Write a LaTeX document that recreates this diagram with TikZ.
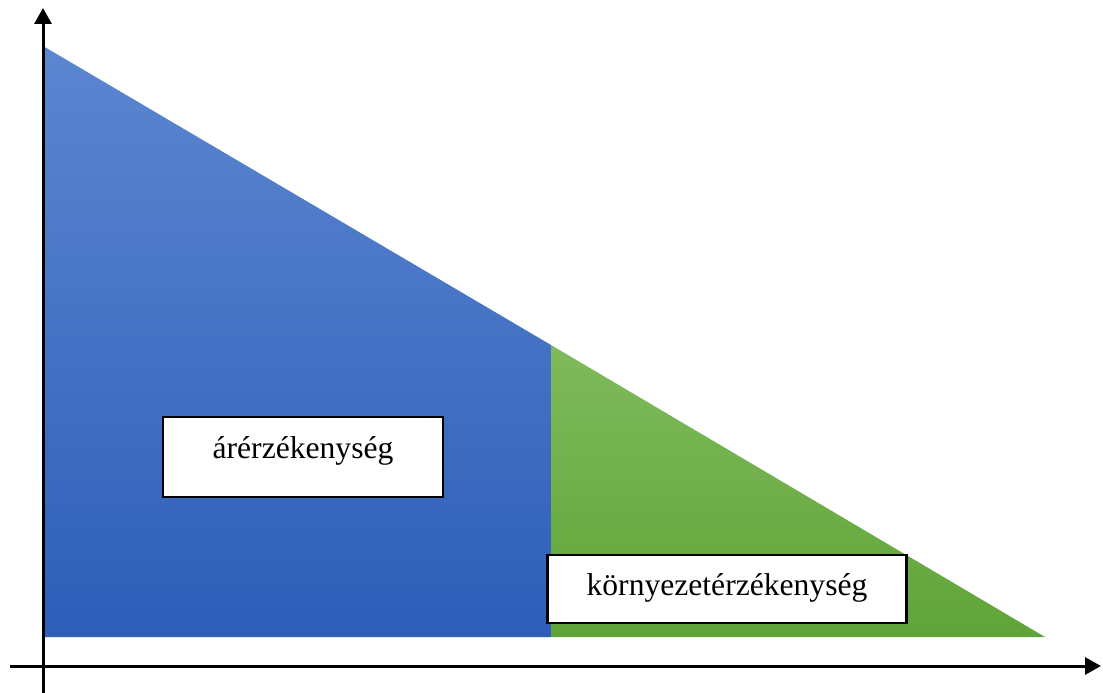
\documentclass[tikz,border=0pt]{standalone}
\usepackage{fontspec}
\setmainfont{Liberation Serif}
\usetikzlibrary{arrows.meta}
\definecolor{bluetop}{RGB}{92,134,208}
\definecolor{bluebot}{RGB}{45,94,184}
\definecolor{greentop}{RGB}{127,186,92}
\definecolor{greenbot}{RGB}{96,164,56}
\tikzset{
  axis/.style={line width=3pt, -{Triangle[width=17pt,length=16pt]}},
  labelbox/.style={draw=black, line width=2.2pt, fill=white, inner sep=0pt,
    font=\fontsize{31.6}{36}\selectfont, text height=22pt},
}
\begin{document}
\begin{tikzpicture}[x=1pt,y=-1pt]
  \useasboundingbox (0,0) rectangle (1103,693);
  % corner points of the two areas
  \coordinate (top) at (43,46);
  \coordinate (origin) at (43,637);
  \coordinate (split) at (551,345);
  \coordinate (splitbase) at (551,637);
  \coordinate (tip) at (1045,637);
  % shaded areas
  \shade[top color=bluetop, bottom color=bluebot] (top) -- (split) -- (splitbase) -- (origin) -- cycle;
  \shade[top color=greentop, bottom color=greenbot] (split) -- (tip) -- (splitbase) -- cycle;
  % axes
  \coordinate (ybot) at (43,693);
  \coordinate (ytop) at (43,8);
  \coordinate (xleft) at (10,666);
  \coordinate (xright) at (1101,666);
  \draw[axis] (ybot) -- (ytop);
  \draw[axis] (xleft) -- (xright);
  % labels
  \node[labelbox, minimum width=280pt, minimum height=80pt, text depth=20pt] (price) at (303,457) {árérzékenység};
  \node[labelbox, minimum width=359pt, minimum height=68pt, text depth=10pt] (env) at (727,589) {környezetérzékenység};
\end{tikzpicture}
\end{document}
